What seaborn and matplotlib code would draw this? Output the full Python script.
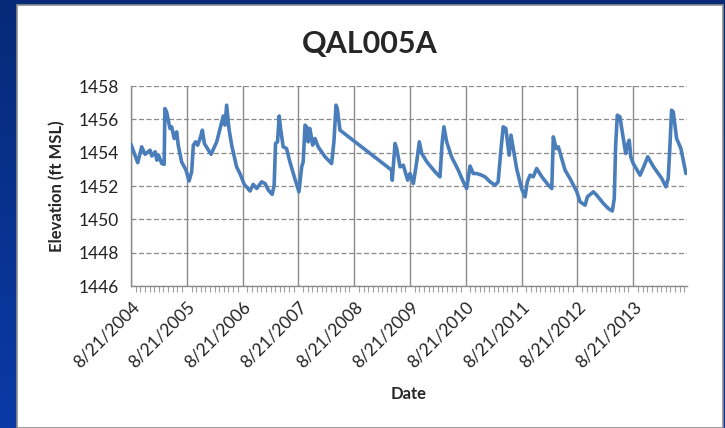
import pandas as pd
import numpy as np
import seaborn as sns
import matplotlib.pyplot as plt
import matplotlib.dates as mdates
from matplotlib.colors import LinearSegmentedColormap
from matplotlib.patches import Rectangle
from matplotlib.ticker import FixedLocator

#%% data
dates = [
    '2004-08-21', '2004-10-04', '2004-10-30', '2004-11-21', '2004-12-24', '2005-01-04',
    '2005-01-26', '2005-02-06', '2005-02-17', '2005-03-10', '2005-03-26', '2005-03-31',
    '2005-04-11', '2005-05-03', '2005-05-14', '2005-05-31', '2005-06-16', '2005-06-26',
    '2005-07-18', '2005-08-16', '2005-09-05', '2005-09-22', '2005-10-03', '2005-10-18',
    '2005-10-31', '2005-11-16', '2005-12-01', '2005-12-14', '2006-01-27', '2006-03-05',
    '2006-04-17', '2006-04-28', '2006-05-09', '2006-05-24', '2006-06-11', '2006-07-13',
    '2006-08-04', '2006-09-01', '2006-10-09', '2006-10-30', '2006-11-22', '2006-12-24',
    '2007-01-15', '2007-02-06', '2007-03-03', '2007-03-16', '2007-03-25', '2007-04-07',
    '2007-04-18', '2007-04-27', '2007-05-14', '2007-06-05', '2007-06-27', '2007-07-29',
    '2007-08-25', '2007-09-12', '2007-09-22', '2007-10-04', '2007-10-15', '2007-10-25',
    '2007-11-05', '2007-11-23', '2007-12-08', '2007-12-29', '2008-02-12', '2008-03-26',
    '2008-04-10', '2008-04-24', '2008-05-02', '2008-05-20', '2009-04-23', '2009-04-27',
    '2009-05-15', '2009-05-26', '2009-06-17', '2009-07-08', '2009-08-06', '2009-08-21',
    '2009-09-12', '2009-10-04', '2009-10-21', '2009-11-06', '2009-12-09', '2010-02-01',
    '2010-03-05', '2010-03-20', '2010-03-31', '2010-04-18', '2010-05-20', '2010-06-11',
    '2010-07-03', '2010-08-05', '2010-08-27', '2010-09-18', '2010-10-09', '2010-10-31',
    '2010-12-03', '2010-12-25', '2011-01-27', '2011-03-01', '2011-03-21', '2011-04-06',
    '2011-04-23', '2011-05-10', '2011-06-01', '2011-06-13', '2011-07-20', '2011-08-21',
    '2011-09-13', '2011-09-28', '2011-10-16', '2011-11-06', '2011-11-28', '2012-01-01',
    '2012-02-13', '2012-03-06', '2012-03-16', '2012-04-03', '2012-04-18', '2012-06-01',
    '2012-07-03', '2012-08-17', '2012-09-07', '2012-10-10', '2012-10-25', '2012-12-03',
    '2012-12-25', '2013-02-07', '2013-03-11', '2013-04-06', '2013-04-19', '2013-04-28',
    '2013-05-09', '2013-05-26', '2013-06-17', '2013-07-03', '2013-07-13', '2013-07-26',
    '2013-08-05', '2013-08-21', '2013-10-05', '2013-11-02', '2013-11-24', '2014-01-01',
    '2014-02-24', '2014-03-23', '2014-04-07', '2014-04-18', '2014-04-29', '2014-05-10',
    '2014-06-01', '2014-06-29', '2014-08-01',
]
elevation = [
    1454.5, 1453.4, 1454.35, 1453.9, 1454.15, 1453.8,
    1454.05, 1453.55, 1453.85, 1453.35, 1453.3, 1456.65,
    1456.45, 1455.45, 1455.55, 1454.85, 1455.25, 1454.45,
    1453.45, 1452.95, 1452.3, 1452.85, 1454.45, 1454.65,
    1454.45, 1454.85, 1455.35, 1454.55, 1453.9, 1454.65,
    1456.2, 1455.65, 1456.85, 1455.45, 1454.45, 1453.15,
    1452.75, 1452.1, 1451.7, 1452.1, 1451.85, 1452.25,
    1452.15, 1451.75, 1451.5, 1452.05, 1454.55, 1454.65,
    1456.2, 1455.45, 1454.35, 1454.25, 1453.45, 1452.45,
    1451.65, 1453.15, 1453.45, 1455.65, 1455.55, 1454.65,
    1455.45, 1454.45, 1454.85, 1454.35, 1453.75, 1453.35,
    1454.65, 1456.85, 1456.65, 1455.35, 1452.95, 1452.35,
    1454.55, 1454.25, 1453.15, 1453.25, 1452.35, 1452.75,
    1452.15, 1453.45, 1454.65, 1453.95, 1453.45, 1452.85,
    1452.55, 1454.65, 1455.55, 1454.65, 1453.75, 1453.35,
    1452.95, 1452.25, 1451.85, 1453.2, 1452.75, 1452.75,
    1452.65, 1452.55, 1452.25, 1452.05, 1452.25, 1453.95,
    1455.55, 1455.45, 1453.85, 1455.05, 1453.05, 1451.85,
    1451.35, 1452.25, 1452.65, 1452.55, 1453.05, 1452.55,
    1452.05, 1451.85, 1454.95, 1454.25, 1454.35, 1452.95,
    1452.45, 1451.65, 1451.05, 1450.85, 1451.35, 1451.65,
    1451.45, 1450.95, 1450.65, 1450.5, 1451.25, 1454.45,
    1456.25, 1456.15, 1454.85, 1453.95, 1454.45, 1454.75,
    1453.75, 1453.35, 1452.65, 1453.25, 1453.75, 1453.15,
    1452.45, 1451.95, 1452.45, 1454.35, 1456.55, 1456.45,
    1454.85, 1454.25, 1452.75,
]
y_ticks = [1446, 1448, 1450, 1452, 1454, 1456, 1458]
x_tick_dates = ['2004-08-21', '2005-08-21', '2006-08-21', '2007-08-21', '2008-08-21',
                '2009-08-21', '2010-08-21', '2011-08-21', '2012-08-21', '2013-08-21']
x_tick_labels = ['8/21/2004', '8/21/2005', '8/21/2006', '8/21/2007', '8/21/2008',
                 '8/21/2009', '8/21/2010', '8/21/2011', '8/21/2012', '8/21/2013']

#%% setup
sns.set_style("white")
plt.rcParams['font.family'] = ['Lato', 'DejaVu Sans']
grid_col = '#8a8a8a'

fig = plt.figure(figsize=(7.25, 4.28), dpi=100)

# blue slide frame behind the white chart area
bg = fig.add_axes([0, 0, 1, 1], zorder=-1)
blue = LinearSegmentedColormap.from_list('frame', ['#062a78', '#0a3aa6'])
bg.imshow(np.linspace(0, 1, 100).reshape(-1, 1), cmap=blue, aspect='auto', extent=[0, 1, 0, 1])
bg.add_patch(Rectangle((17 / 725, 0), (723 - 17) / 725, 1 - 5 / 428,
                       facecolor='white', edgecolor='#8c8c8c', lw=1.2))
bg.set_xlim(0, 1)
bg.set_ylim(0, 1)
bg.axis('off')

#%% plot
df = pd.DataFrame({'Date': pd.to_datetime(dates), 'Elevation': elevation})
ax = fig.add_axes([131 / 725, 1 - 286 / 428, 556 / 725, 200 / 428])
ax.set_facecolor('none')
sns.lineplot(data=df, x='Date', y='Elevation', ax=ax, color='#4A7EBB', lw=2.6, zorder=3)

ax.set_xlim(pd.Timestamp('2004-08-21'), pd.Timestamp('2014-08-08'))
ax.set_ylim(1446, 1458)
ax.set_yticks(y_ticks)
ax.xaxis.set_major_locator(FixedLocator(mdates.date2num(pd.to_datetime(x_tick_dates))))
ax.xaxis.set_minor_locator(mdates.MonthLocator(bymonthday=21))
ax.set_xticklabels(x_tick_labels, rotation=45, ha='right', rotation_mode='anchor')

ax.tick_params(axis='both', which='major', labelsize=12.5, color=grid_col, direction='out')
ax.tick_params(axis='x', which='major', length=6, width=1, pad=3)
ax.tick_params(axis='x', which='minor', length=4, width=0.8, color='#a0a0a0', bottom=True)
ax.tick_params(axis='y', which='major', length=6, width=1, pad=3)
ax.tick_params(axis='both', labelcolor='#222222')

ax.grid(axis='y', which='major', color=grid_col, lw=0.9, linestyle=(0, (4, 2)))
ax.grid(axis='x', which='major', color=grid_col, lw=1.0, linestyle='-')
for s in ['top', 'right']:
    ax.spines[s].set_visible(False)
for s in ['left', 'bottom']:
    ax.spines[s].set_color(grid_col)
    ax.spines[s].set_linewidth(1.0)

ax.set_ylabel('Elevation (ft MSL)', fontsize=12, fontweight='bold')
ax.yaxis.set_label_coords(-0.119, 0.5)
ax.set_xlabel('Date', fontsize=12, fontweight='bold')
ax.xaxis.set_label_coords(0.5, -0.5)
fig.text(370 / 725, 1 - 44 / 428, 'QAL005A', ha='center', va='center', fontsize=22, fontweight='bold')

plt.savefig('out.png', dpi=100)
